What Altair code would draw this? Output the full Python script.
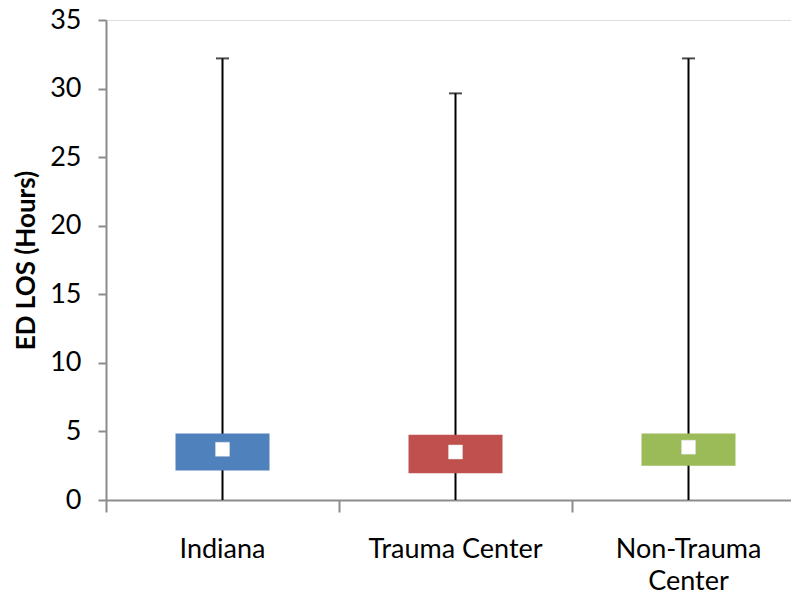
import altair as alt
import pandas as pd

categories = ["Indiana", "Trauma Center", "Non-Trauma Center"]
whisker_min = [0, 0, 0]
whisker_max = [32.2, 29.65, 32.2]
box_low = [2.15, 1.95, 2.5]
box_high = [4.85, 4.75, 4.85]
center = [3.7, 3.5, 3.85]
colors = ["#4F81BD", "#C0504D", "#9BBB59"]
y_ticks = [0, 5, 10, 15, 20, 25, 30, 35]

df = pd.DataFrame({
    "cat": categories,
    "wmin": whisker_min,
    "wmax": whisker_max,
    "lo": box_low,
    "hi": box_high,
    "mid": center,
})

FONT = "Lato"
x = alt.X(
    "cat:N",
    sort=categories,
    scale=alt.Scale(domain=categories, range=[0, 699], paddingInner=0, paddingOuter=0),
    axis=alt.Axis(
        title=None,
        labelAngle=0,
        labelFontSize=27,
        labelFont=FONT,
        labelColor="black",
        labelPadding=24,
        labelLineHeight=32,
        labelExpr="datum.label == 'Non-Trauma Center' ? ['Non-Trauma', 'Center'] : datum.label",
        bandPosition=0,
        tickSize=12,
        tickWidth=2,
        tickColor="#8C8C8C",
        domainColor="#8C8C8C",
        domainWidth=2,
        grid=False,
    ),
)
yscale = alt.Scale(domain=[0, 35], nice=False, zero=True)
yaxis = alt.Axis(
    title="ED LOS (Hours)",
    titleFont=FONT,
    titleFontSize=26,
    titleFontWeight="bold",
    titleColor="black",
    titlePadding=10,
    values=y_ticks,
    labelFont=FONT,
    labelFontSize=27,
    labelColor="black",
    labelPadding=17,
    tickSize=8,
    tickWidth=2,
    tickColor="#8C8C8C",
    domainColor="#8C8C8C",
    domainWidth=2,
    grid=False,
)

base = alt.Chart(df)

whisker = base.mark_rule(color="black", strokeWidth=2).encode(
    x=x,
    y=alt.Y("wmin:Q", scale=yscale, axis=yaxis),
    y2="wmax:Q",
)
cap = base.mark_tick(color="black", size=13, thickness=2, orient="horizontal").encode(
    x=x,
    y=alt.Y("wmax:Q", scale=yscale),
)
box = base.mark_bar(size=94).encode(
    x=x,
    y=alt.Y("lo:Q", scale=yscale),
    y2="hi:Q",
    color=alt.Color("cat:N", scale=alt.Scale(domain=categories, range=colors), legend=None),
)
marker = base.mark_square(size=196, color="white", opacity=1, stroke="#DDDDDD", strokeWidth=0.5).encode(
    x=x,
    y=alt.Y("mid:Q", scale=yscale),
)

chart = (
    alt.layer(whisker, cap, box, marker)
    .properties(
        width=685,
        height=480,
        autosize=alt.AutoSizeParams(type="none"),
        padding={"left": 98, "top": 12, "right": 0, "bottom": 92},
    )
    .configure_view(stroke=None)
    .configure(background="white")
)

chart.save("out.html", embed_options={"renderer": "svg", "actions": False})
